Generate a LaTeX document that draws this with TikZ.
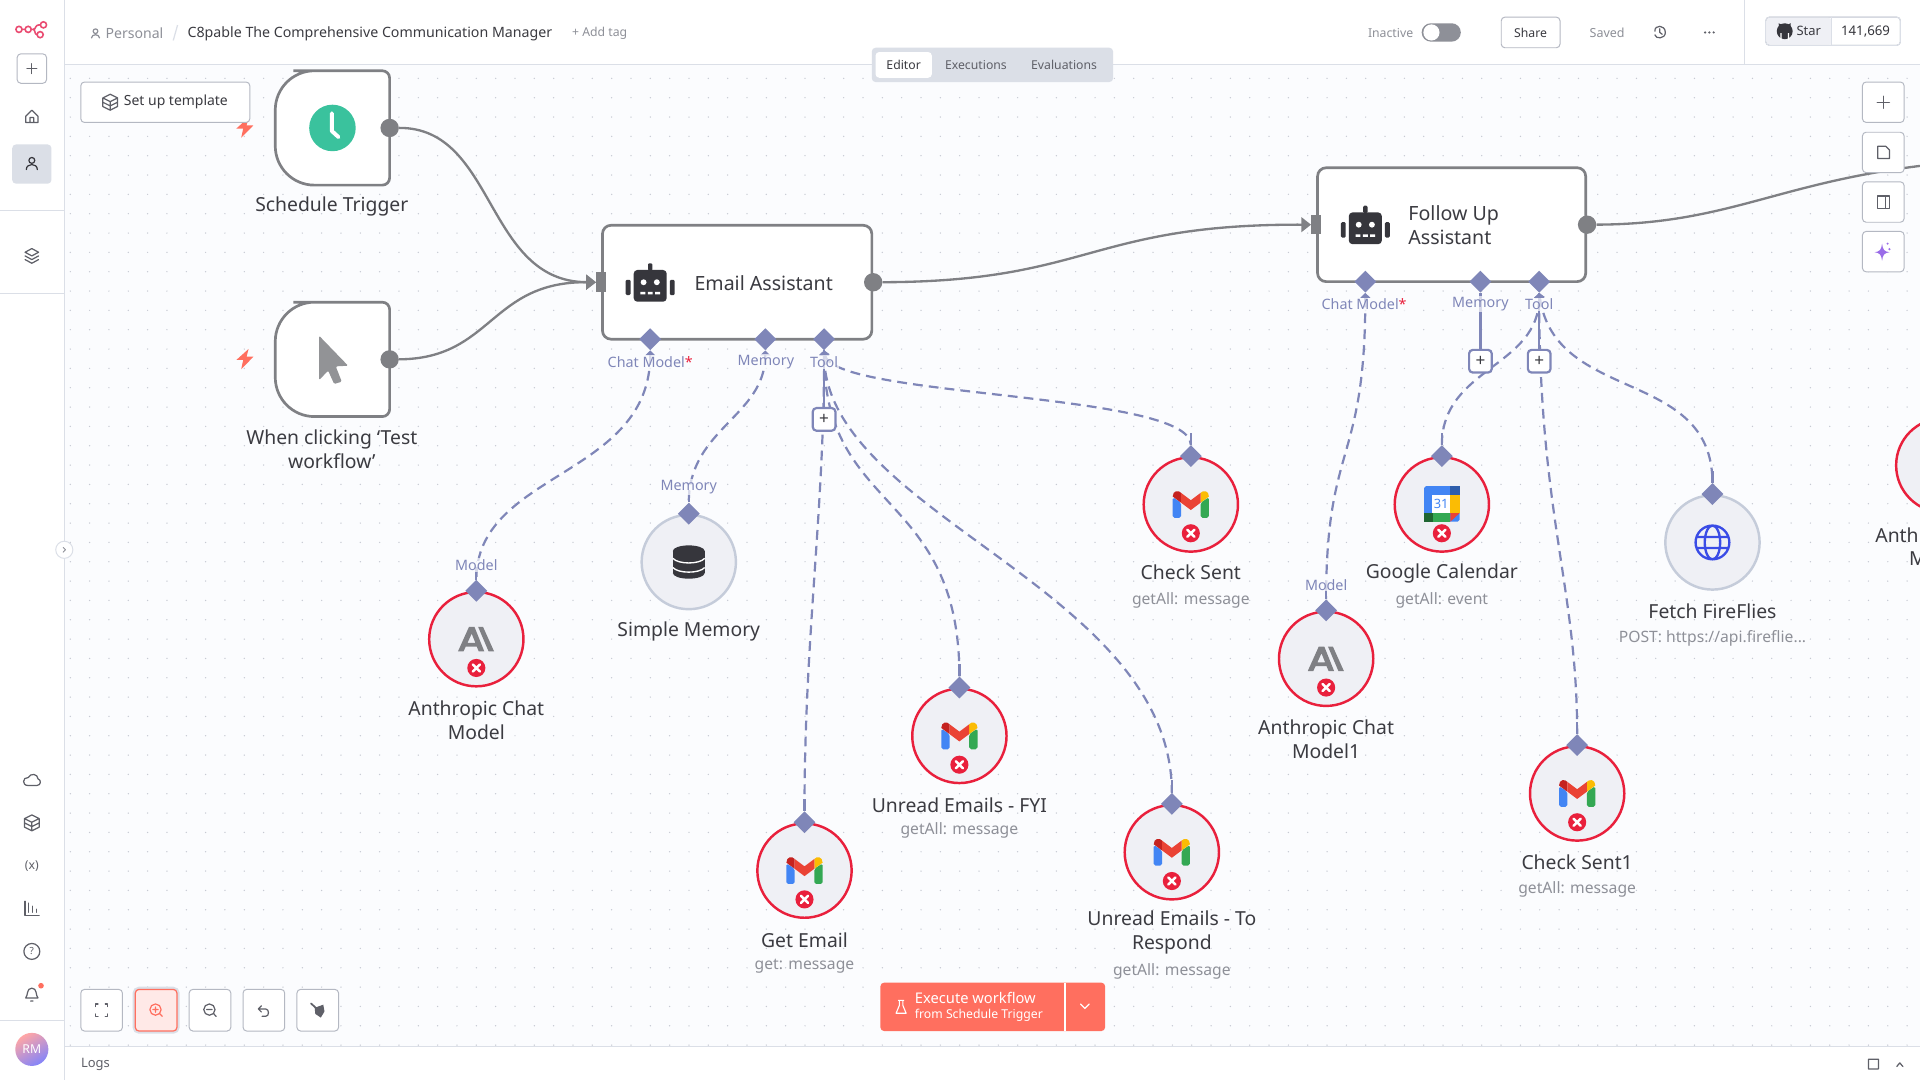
\documentclass[tikz,border=0pt]{standalone}
\usepackage{fontspec}
\setmainfont{Noto Sans}
\usetikzlibrary{arrows.meta,backgrounds,positioning,shapes.geometric}
\definecolor{canvasc}{HTML}{FBFCFE}
\definecolor{griddot}{HTML}{C6C9D2}
\definecolor{framec}{HTML}{DBDFE7}
\definecolor{btnline}{HTML}{B4B8C2}
\definecolor{textdark}{HTML}{3B3B41}
\definecolor{textgray}{HTML}{8E9098}
\definecolor{iconc}{HTML}{5F6068}
\definecolor{flowc}{HTML}{7F8084}
\definecolor{auxc}{HTML}{7F86B8}
\definecolor{errc}{HTML}{E9203C}
\definecolor{idlec}{HTML}{C5CCDA}
\definecolor{toolbg}{HTML}{EFF0F5}
\definecolor{coral}{HTML}{FF6F5F}
\definecolor{robotc}{HTML}{36363C}
\definecolor{gblue}{HTML}{4285F4}
\definecolor{ggreen}{HTML}{34A853}
\definecolor{gyellow}{HTML}{FBBC04}
\definecolor{gred}{HTML}{EA4335}
\definecolor{gdark}{HTML}{C5221F}
\definecolor{clockc}{HTML}{3AC29D}
\definecolor{globec}{HTML}{3A4CE6}
\definecolor{sparkc}{HTML}{9A6CE8}
\definecolor{logoc}{HTML}{EA4B71}
\tikzset{
  fs/.style={font=\fontsize{#1}{19.5}\selectfont},
  labeltext/.style={fs=15.8,text=textdark,align=center,inner sep=0pt},
  subtext/.style={fs=12.8,text=textgray,inner sep=0pt},
  uitext/.style={fs=10,text=textgray,inner sep=0pt},
  portlabel/.style={fs=11.7,text=auxc,fill=canvasc,fill opacity=.7,text opacity=1,inner sep=1pt},
  agentbox/.style={draw=flowc,line width=2.2pt,fill=white,rounded corners=7pt,inner sep=0pt},
  toolnode/.style={circle,fill=toolbg,line width=2pt,minimum size=77pt,inner sep=0pt},
  auxport/.style={diamond,fill=auxc,minimum size=18pt,inner sep=0pt},
  outdot/.style={circle,fill=flowc,minimum size=15pt,inner sep=0pt},
  inport/.style={rectangle,fill=flowc,minimum width=8pt,minimum height=16pt,inner sep=0pt},
  plusbox/.style={draw=auxc,line width=1.8pt,fill=white,rounded corners=3pt,minimum size=18.5pt,inner sep=0pt,fs=14,text=textdark},
  flowline/.style={draw=flowc,line width=1.9pt,-{Triangle[length=8pt,width=12pt]}},
  auxline/.style={draw=auxc,line width=1.8pt,dash pattern=on 8pt off 5pt,{Triangle[length=4pt,width=8pt,fill=auxc]}-},
  auxsolid/.style={draw=auxc,line width=1.8pt},
  uibtn/.style={draw=btnline,line width=.8pt,fill=white,rounded corners=3pt,inner sep=0pt},
  ico/.style={draw=iconc,line width=1pt,line cap=round,line join=round},
  gmailicon/.pic={
    \fill[rounded corners=1.5pt,fill=gblue] (-14.8,-6) -- (-8,-1.5) -- (-8,10.9) -- (-14.8,10.9) -- cycle;
    \fill[rounded corners=1.5pt,fill=ggreen] (14.8,-6) -- (8,-1.5) -- (8,10.9) -- (14.8,10.9) -- cycle;
    \fill[fill=gdark] (-14.8,-6.5) .. controls (-14.8,-11.5) and (-10,-12) .. (-8,-9.5) -- (-8,-1.5) -- cycle;
    \fill[fill=gyellow] (14.8,-6.5) .. controls (14.8,-11.5) and (10,-12) .. (8,-9.5) -- (8,-1.5) -- cycle;
    \fill[fill=gred] (-8,-9.5) -- (0,-3.5) -- (8,-9.5) -- (8,-1.5) -- (0,4.5) -- (-8,-1.5) -- cycle;
  },
  errbadge/.pic={
    \fill[errc] (0,0) circle (7.4pt);
    \draw[white,line width=2pt,line cap=round] (-2.9,-2.9) -- (2.9,2.9) (-2.9,2.9) -- (2.9,-2.9);
  },
  anthropicicon/.pic={
    \fill[fill=flowc,even odd rule] (-15,10) -- (-6,-10) -- (-1.5,-10) -- (6.5,10) -- (2,10) -- (.3,6) -- (-8.6,6) -- (-10.5,10) -- cycle
      (-3.8,-4.5) -- (-7.2,3) -- (-.8,3) -- cycle;
    \fill[fill=flowc] (1.5,-10) -- (5.5,-10) -- (14.5,10) -- (10,10) -- cycle;
  },
  roboticon/.pic={
    \fill[robotc,rounded corners=3pt] (-13.5,-10.5) rectangle (13.5,15.4);
    \fill[robotc,rounded corners=1pt] (-20,-2.5) rectangle (-16,10);
    \fill[robotc,rounded corners=1pt] (16,-2.5) rectangle (20,10);
    \fill[robotc,rounded corners=1pt] (-1.8,-16) rectangle (1.8,-10);
    \fill[white] (-5.4,-.5) circle (2.4pt) (5.4,-.5) circle (2.4pt);
    \fill[white] (-8,7.4) rectangle (-4,9.4) (-2,7.4) rectangle (2,9.4) (4,7.4) rectangle (8,9.4);
  },
  boxicon/.pic={
    \draw[ico] (-6,-3.5) -- (0,-6.5) -- (6,-3.5) -- (6,3.5) -- (0,6.5) -- (-6,3.5) -- cycle (-6,-3.5) -- (0,-.5) -- (6,-3.5) (0,-.5) -- (0,6.5) (-6,0) -- (0,3) -- (6,0);
  },
  bolticon/.pic={
    \fill[coral] (3,-8) -- (-7,1) -- (-1.4,1) -- (-3,8.5) -- (7,-1.7) -- (1.4,-1.7) -- cycle;
  },
}
\begin{document}
\begin{tikzpicture}[x=1pt,y=-1pt]
\useasboundingbox (0,0) rectangle (1568,882);
\begin{scope}[on background layer]
\fill[white] (0,0) rectangle (1568,882);
\fill[canvasc] (53,53) rectangle (1568,855);
\foreach \i in {0,...,95} \foreach \j in {0,...,50} \fill[griddot] ({57.4+15.79*\i},{64+15.79*\j}) circle (.6pt);
\end{scope}

% trigger nodes
\foreach \n/\y in {schedule/104.5,clicking/293.5} {
  \node[minimum size=93pt,inner sep=0pt] (\n) at (271.5,\y) {};
  \draw[draw=flowc,line width=2.2pt,fill=white,rounded corners=32pt] (\n.south) -- (\n.south west) -- (\n.north west) -- (\n.north) [rounded corners=6pt] -- (\n.north east) -- (\n.south east) -- cycle;
  \node[outdot] (\n out) at (\n.east) {};
}
\pic at (200,104) {bolticon};
\pic at (200,293) {bolticon};
\fill[fill=clockc] (schedule) circle (19pt);
\draw[white,line width=3.2pt,line cap=round,line join=round] (271,92.5) -- (271,107) -- (276.5,112);
\fill[fill=flowc!85!white,rounded corners=1pt] (260.6,274.2) -- (284.3,298.7) -- (274.2,299.2) -- (279.1,311.7) -- (272.9,313.6) -- (268,302.7) -- (260.6,310.4) -- cycle;

% agent nodes
\node[agentbox,minimum width=220pt,minimum height=93pt] (email) at (602,230.5) {};
\node[agentbox,minimum width=219pt,minimum height=93pt] (followup) at (1185.5,183.5) {};
\pic at (531,231) {roboticon};
\pic at (1115,184) {roboticon};
\node[fs=16,text=textdark,inner sep=0pt,anchor=west] (emailtext) at (567,231) {Email Assistant};
\node[fs=16,text=textdark,inner sep=0pt,anchor=west,align=left] (followtext) at (1150,184) {Follow Up\\Assistant};
\foreach \n in {email,followup} {
  \node[outdot] (\n out) at (\n.east) {};
  \node[inport] (\n in) at (\n.west) {};
}
\node[auxport] (emailchat) at (531,277) {};
\node[auxport] (emailmem) at (625,277) {};
\node[auxport] (emailtool) at (673,277) {};
\node[auxport] (followchat) at (1115,230) {};
\node[auxport] (followmem) at (1209,230) {};
\node[auxport] (followtool) at (1257,230) {};
\node[plusbox] (emailplus) at (673,342.5) {+};
\node[plusbox] (memplus) at (1209,295) {+};
\node[plusbox] (toolplus) at (1257,295) {+};

% sub nodes
\foreach \n/\x/\y/\c in {chatone/389/522/errc,memory/562.5/459/idlec,getemail/657/711/errc,fyi/783.5/601/errc,torespond/957/696/errc,checksent/972.5/412/errc,chattwo/1083/538/errc,calendar/1177.5/412/errc,fireflies/1398.5/443/idlec,checksentone/1288/648/errc,chatthree/1587/380/errc} {
  \node[toolnode,draw=\c] (\n) at (\x,\y) {};
  \node[auxport] (\n port) at (\n.north) {};
}
\foreach \n in {getemail,fyi,torespond,checksent,checksentone} \pic at (\n) {gmailicon};
\foreach \n in {chatone,chattwo} \pic at (\n) {anthropicicon};
\foreach \n in {chatone,getemail,fyi,torespond,checksent,chattwo,calendar,checksentone} \pic at ([yshift=-23.5pt]\n.center) {errbadge};
\foreach \n in {chatone,memory,getemail,fyi,torespond,checksent,chattwo,calendar,fireflies,checksentone} \draw[auxsolid] (\n port.north) -- ++(0,-10);

% memory icon
\fill[robotc] (549.5,450) rectangle (575.5,468);
\fill[robotc] (562.5,450) ellipse (13pt and 4.6pt) (562.5,468) ellipse (13pt and 4.6pt);
\draw[white,line width=1.1pt] (549.5,456) .. controls (554,461) and (571,461) .. (575.5,456) (549.5,463.5) .. controls (554,468.5) and (571,468.5) .. (575.5,463.5);
% calendar icon
\fill[fill=gblue,rounded corners=1.5pt] (1163,397) rectangle (1192,426);
\fill[fill=gblue!70!black] (1184.5,397) rectangle (1192,404.5);
\fill[fill=gyellow] (1184.5,404.5) rectangle (1192,419);
\fill[fill=ggreen] (1170,419) rectangle (1184.5,426);
\fill[fill=ggreen!60!black] (1163,419) rectangle (1170,426);
\fill[fill=gred] (1184.5,419) -- (1192,419) -- (1184.5,426) -- cycle;
\node[fill=white,minimum width=15pt,minimum height=14.5pt,inner sep=0pt,fs=10.5,text=gblue] (calnum) at (1177,411.7) {31};
% globe icon
\draw[draw=globec,line width=1.9pt] (fireflies) circle (13.8pt) (fireflies) ellipse (6.3pt and 13.8pt) (1385,438.5) -- (1412,438.5) (1385,447.5) -- (1412,447.5);

% connectors
\begin{scope}[on background layer]
\draw[flowline] (scheduleout) .. controls (405,104) and (396,230) .. (emailin.west);
\draw[flowline] (clickingout) .. controls (402,293) and (400,230) .. (emailin.west);
\draw[flowline] (emailout) .. controls (890,230) and (890,183) .. (followupin.west);
\coordinate (nextagent) at (1568,135.5);
\draw[draw=flowc,line width=1.9pt] (followupout) .. controls (1410,183) and (1450,150) .. (nextagent);
\draw[auxline] (emailchat.south) .. controls (531,390) and (389,385) .. (chatoneport.north);
\draw[auxline] (emailmem.south) .. controls (625,340) and (562.5,350) .. (memoryport.north);
\draw[auxline] (emailtool.south) .. controls (673,420) and (657,520) .. (getemailport.north);
\draw[auxline] (emailtool.south) .. controls (673,420) and (783.5,400) .. (fyiport.north);
\draw[auxline] (emailtool.south) .. controls (673,420) and (957,480) .. (torespondport.north);
\draw[auxline] (emailtool.south) .. controls (680,325) and (972.5,320) .. (checksentport.north);
\draw[auxline] (followchat.south) .. controls (1115,380) and (1083,360) .. (chattwoport.north);
\draw[auxline] (followtool.south) .. controls (1257,300) and (1177.5,300) .. (calendarport.north);
\draw[auxline] (followtool.south) .. controls (1257,420) and (1288,480) .. (checksentoneport.north);
\draw[auxline] (followtool.south) .. controls (1270,330) and (1398.5,300) .. (firefliesport.north);
\draw[auxsolid] (emailtool) -- (emailplus);
\draw[auxsolid] (followmem) -- (memplus);
\draw[auxsolid] (followtool) -- (toolplus);
\end{scope}

% port labels
\node[portlabel] (emailchatlabel) at (531,295.5) {Chat Model{\color{errc}*}};
\node[portlabel] (emailmemlabel) at (625.5,295.5) {Memory};
\node[portlabel] (emailtoollabel) at (673,295.5) {Tool};
\node[portlabel] (followchatlabel) at (1114,248.5) {Chat Model{\color{errc}*}};
\node[portlabel] (followmemlabel) at (1209,248.5) {Memory};
\node[portlabel] (followtoollabel) at (1257,248.5) {Tool};
\node[portlabel] (chatonelabel) at (389,461.5) {Model};
\node[portlabel] (memorylabel) at (562.5,397.5) {Memory};
\node[portlabel] (chattwolabel) at (1083,477.5) {Model};

% node labels
\node[labeltext] (schedulelabel) at (271,168.5) {Schedule Trigger};
\node[labeltext] (clickinglabel) at (271,367) {When clicking ‘Test\\workflow’};
\node[labeltext] (chatonename) at (389,588) {Anthropic Chat\\Model};
\node[labeltext] (memoryname) at (562.5,515.5) {Simple Memory};
\node[labeltext] (getemailname) at (657,768) {Get Email};
\node[labeltext] (fyiname) at (783.5,657.5) {Unread Emails - FYI};
\node[labeltext] (torespondname) at (957,761.5) {Unread Emails - To\\Respond};
\node[labeltext] (checksentname) at (972.5,467.5) {Check Sent};
\node[labeltext] (chattwoname) at (1083,603.5) {Anthropic Chat\\Model1};
\node[labeltext] (calendarname) at (1177.5,468) {Google Calendar};
\node[labeltext] (firefliesname) at (1398.5,499.5) {Fetch FireFlies};
\node[labeltext] (checksentonename) at (1288,704.5) {Check Sent1};
\node[labeltext] (chatthreename) at (1587,446.5) {Anthropic Chat\\Model2};
\node[subtext] (getemailsub) at (657,789) {get: message};
\node[subtext] (fyisub) at (783.5,678.5) {getAll: message};
\node[subtext] (torespondsub) at (957,793) {getAll: message};
\node[subtext] (checksentsub) at (972.5,490) {getAll: message};
\node[subtext] (calendarsub) at (1177.5,490) {getAll: event};
\node[subtext] (firefliessub) at (1398.5,521) {POST: https://api.fireflie...};
\node[subtext] (checksentonesub) at (1288,726.5) {getAll: message};

% header and panels
\fill[white] (0,0) rectangle (1568,53);
\fill[white] (0,0) rectangle (53,882);
\fill[white] (53,855) rectangle (1568,882);
\draw[framec,line width=.9pt] (53,53) -- (1568,53) (53,0) -- (53,882) (53,855) -- (1568,855) (1425,0) -- (1425,53) (0,172) -- (53,172) (0,240) -- (53,240) (0,833.5) -- (53,833.5);
\draw[draw=logoc,line width=1.3pt,fill=white] (15.5,24) circle (2.5pt) (23,24) circle (2.5pt) (35.5,20.3) circle (2.5pt) (32.8,28.3) circle (2.5pt);
\draw[draw=logoc,line width=1.3pt] (18,24) -- (20.5,24) (25.5,24) -- (27,24) .. controls (30,24) and (27.5,20.3) .. (33,20.3) (27,24) .. controls (29,24) and (28,28.3) .. (30.3,28.3);
\draw[ico,draw=textgray] (78,25.5) circle (1.9pt) (74.7,31) .. controls (75,27.5) and (81,27.5) .. (81.3,31);
\node[fs=11.5,text=textgray,inner sep=0pt,anchor=west] (personal) at (86,27.5) {Personal};
\draw[framec,line width=1pt] (141.5,33) -- (145,20.5);
\node[fs=11.6,text=textdark,inner sep=0pt,anchor=west] (wftitle) at (153,27.5) {C8pable The Comprehensive Communication Manager};
\node[uitext,anchor=west] (addtag) at (467,27) {+ Add tag};
\node[uitext,anchor=west] (inactive) at (1117,27) {Inactive};
\fill[fill=textgray,rounded corners=7.5pt] (1161,19) rectangle (1193,34);
\fill[white] (1169,26.5) circle (6.6pt);
\node[uibtn,minimum width=48pt,minimum height=25pt,fs=10,text=textdark] (share) at (1250,26.5) {Share};
\node[uitext,fs=10.2,anchor=center] (saved) at (1312.5,26.5) {Saved};
\draw[ico] (1351.5,25.5) .. controls (1351,20) and (1360,20) .. (1360,26.5) .. controls (1360,32) and (1352,32) .. (1351.5,28.5) (1355.5,23.5) -- (1355.5,26.5) -- (1357.5,28);
\fill[fill=iconc] (1392.5,26.5) circle (1pt) (1396,26.5) circle (1pt) (1399.5,26.5) circle (1pt);
\node[uibtn,minimum width=110pt,minimum height=23pt] (starbtn) at (1497,25.5) {};
\fill[fill=toolbg,rounded corners=3pt] (1442.5,14.5) rectangle (1496,36.5);
\draw[framec,line width=.8pt,rounded corners=3pt] (1442,14) rectangle (1552,37);
\draw[framec,line width=.8pt] (1496,14) -- (1496,37);
\fill[fill=robotc] (1457.5,25.5) circle (6.5pt);
\fill[fill=robotc] (1452.5,19) -- (1456,20.5) -- (1453,23) -- cycle (1462.5,19) -- (1459,20.5) -- (1462,23) -- cycle;
\fill[white] (1454,27) rectangle (1455,33) (1460,27) rectangle (1461,33);
\node[fs=10.6,text=textdark,inner sep=0pt,anchor=west] (starlabel) at (1467,25.5) {Star};
\node[fs=10.8,text=robotc,inner sep=0pt] (starcount) at (1523.5,25.5) {141,669};

% view tabs
\fill[fill=framec,rounded corners=3pt] (712,39) rectangle (909,67);
\node[fill=white,rounded corners=3pt,minimum width=46pt,minimum height=21pt,inner sep=0pt,fs=10,text=textdark] (tabeditor) at (738,53) {Editor};
\node[fs=10,text=iconc,inner sep=0pt] (tabexec) at (797,53) {Executions};
\node[fs=10,text=iconc,inner sep=0pt] (tabeval) at (869,53) {Evaluations};

% sidebar
\node[uibtn,minimum size=24pt] (sideplus) at (26,56) {};
\draw[ico] (22,56) -- (30,56) (26,52) -- (26,60);
\draw[ico] (21,95) -- (26,90) -- (31,95) -- (31,100) -- (21,100) -- cycle (24.5,100) -- (24.5,96) -- (27.5,96) -- (27.5,100);
\fill[fill=framec,rounded corners=3pt] (10,118) rectangle (42,150);
\draw[ico,draw=robotc] (26,131) circle (2.4pt) (21.5,138.5) .. controls (21.5,133) and (30.5,133) .. (30.5,138.5);
\draw[ico] (26,203) -- (31.5,206) -- (26,209) -- (20.5,206) -- cycle (20.5,209) -- (26,212) -- (31.5,209) (20.5,212) -- (26,215) -- (31.5,212);
\draw[ico] (23,641.5) .. controls (17.5,641.5) and (18.5,634.5) .. (23,635) .. controls (25,631) and (31,632) .. (31,636) .. controls (34,637) and (33.5,641.5) .. (30,641.5) -- cycle;
\pic at (26,672) {boxicon};
\node[fs=10,text=iconc,inner sep=0pt] (sidevars) at (26,707) {(x)};
\draw[ico] (20.5,736) -- (20.5,747.5) -- (32,747.5) (23.5,737.5) -- (23.5,745) (26.5,740) -- (26.5,745) (29.5,742.5) -- (29.5,745);
\node[draw=iconc,line width=1pt,circle,minimum size=13pt,inner sep=0pt,fs=8,text=iconc] (sidehelp) at (26,777) {?};
\draw[ico] (21,815) .. controls (23,813) and (21.5,807) .. (26,807) .. controls (30.5,807) and (29,813) .. (31,815) -- cycle (25,817.5) -- (27,817.5);
\fill[fill=coral] (33.5,805) circle (2.3pt);
\node[circle,minimum size=27pt,inner sep=0pt,shading=axis,left color=red!35!white,right color=blue!45!toolbg,shading angle=30,fs=10,text=white] (avatar) at (26,857) {RM};
\node[circle,draw=framec,line width=.8pt,fill=white,minimum size=14pt,inner sep=0pt] (collapse) at (52.5,449) {};
\draw[ico,draw=textgray,line width=.7pt] (51.5,447) -- (53.5,449) -- (51.5,451);

% bottom panel
\node[fs=10.6,text=iconc,inner sep=0pt,anchor=west] (logs) at (66,869) {Logs};
\draw[ico] (1526,865) rectangle (1534,873) (1549,871) -- (1551.5,868) -- (1554,871);

% template button
\node[uibtn,minimum width=138pt,minimum height=33pt] (template) at (135,83.5) {};
\pic at (90,83.5) {boxicon};
\node[fs=11.4,text=textdark,inner sep=0pt,anchor=west] (templatetext) at (101,83.5) {Set up template};

% right tools
\foreach \n/\y in {rightadd/83.5,rightdoc/124.5,rightpanel/165,rightspark/205.5} \node[uibtn,minimum width=34pt,minimum height=33pt] (\n) at (1538,\y) {};
\draw[ico] (1533,83.5) -- (1543,83.5) (1538,78.5) -- (1538,88.5);
\draw[ico] (1533.5,119.5) -- (1540,119.5) -- (1543,122.5) -- (1543,129.5) -- (1533.5,129.5) -- cycle;
\draw[ico] (1533.5,160) rectangle (1543,170) (1539.5,160) -- (1539.5,170);
\fill[fill=sparkc] (1537,199) .. controls (1537.5,204) and (1539,205.5) .. (1543,206) .. controls (1539,206.5) and (1537.5,208) .. (1537,213) .. controls (1536.5,208) and (1535,206.5) .. (1531,206) .. controls (1535,205.5) and (1536.5,204) .. (1537,199);
\fill[fill=sparkc] (1543,203.5) circle (1pt) (1541.5,199) circle (.9pt);

% zoom controls
\foreach \n/\x in {fitview/83,zoomin/127.5,zoomout/171.5,undo/215.5,tidyup/259.5} \node[uibtn,minimum width=34pt,minimum height=34pt] (\n) at (\x,825) {};
\draw[framec,line width=2.4pt,rounded corners=4pt] (109.5,807) rectangle (145.5,843);
\node[draw=coral,line width=1pt,fill=coral!15!white,rounded corners=3pt,minimum width=34pt,minimum height=34pt] (zoomfill) at (zoomin) {};
\draw[ico] (78,822) -- (78,820) -- (80,820) (86,820) -- (88,820) -- (88,822) (88,828) -- (88,830) -- (86,830) (80,830) -- (78,830) -- (78,828);
\draw[ico,draw=coral] (127,824.5) circle (4.6pt) (124.8,824.5) -- (129.2,824.5) (127,822.3) -- (127,826.7) (130.6,828) -- (132.5,830);
\draw[ico] (171,824.5) circle (4.6pt) (168.8,824.5) -- (173.2,824.5) (174.6,828) -- (176.5,830);
\draw[ico] (213.5,821.5) -- (211,824) -- (213.5,826.5) (211,824) -- (217,824) .. controls (220,824) and (220,830) .. (217,830) -- (214,830);
\fill[fill=iconc] (257,823) -- (264,820.5) -- (265,826) -- (262,831) -- (257.5,828) -- cycle;
\draw[ico,line width=1.4pt] (254,819.5) -- (259,824);

% run button
\fill[fill=coral,rounded corners=3pt] (719,802.5) rectangle (902.5,842);
\draw[white,line width=.9pt] (869.7,802.5) -- (869.7,842);
\draw[draw=white,line width=.9pt,line join=round] (734.5,817) -- (734.5,821) -- (731.8,827.5) -- (740,827.5) -- (737.3,821) -- (737.3,817) (733.5,817) -- (738.3,817);
\node[fs=12,text=white,inner sep=0pt,anchor=west] (runtext) at (747,815) {Execute workflow};
\node[fs=10,text=white,inner sep=0pt,anchor=west] (runsub) at (747,829) {from Schedule Trigger};
\draw[white,line width=1pt,line cap=round] (882.5,820) -- (886,823.5) -- (889.5,820);
\end{tikzpicture}
\end{document}
